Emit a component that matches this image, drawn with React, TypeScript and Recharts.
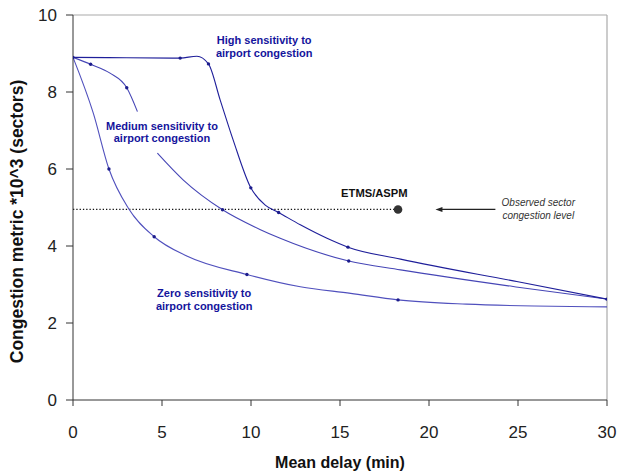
import React from "react";
import { ComposedChart, Line, Scatter, XAxis, YAxis, ReferenceLine, ReferenceDot, Label } from "recharts";

// values (x = mean delay, y = congestion metric)
const xTicks = [0, 5, 10, 15, 20, 25, 30];
const yTicks = [0, 2, 4, 6, 8, 10];

const highCurve = [
  { x: 0, y: 8.9 }, { x: 3, y: 8.89 }, { x: 6.02, y: 8.88 }, { x: 6.96, y: 8.93 }, { x: 7.61, y: 8.73 },
  { x: 8.27, y: 7.79 }, { x: 9.0, y: 6.75 }, { x: 9.99, y: 5.51 }, { x: 10.8, y: 5.06 }, { x: 11.55, y: 4.87 },
  { x: 12.77, y: 4.55 }, { x: 14.27, y: 4.2 }, { x: 15.45, y: 3.97 }, { x: 18.4, y: 3.66 }, { x: 25, y: 3.07 },
  { x: 30, y: 2.62 },
];
const highMarkers = [
  { x: 0, y: 8.9 }, { x: 6.02, y: 8.88 }, { x: 7.61, y: 8.73 }, { x: 9.99, y: 5.51 },
  { x: 11.55, y: 4.87 }, { x: 15.45, y: 3.97 }, { x: 30, y: 2.62 },
];

const mediumCurveTop = [
  { x: 0, y: 8.9 }, { x: 0.99, y: 8.72 }, { x: 2.08, y: 8.49 }, { x: 3.02, y: 8.11 }, { x: 3.62, y: 7.49 },
];
const mediumCurveBottom = [
  { x: 4.74, y: 6.41 }, { x: 6.2, y: 5.71 }, { x: 8.4, y: 4.94 }, { x: 10.5, y: 4.43 }, { x: 11.64, y: 4.2 },
  { x: 15.49, y: 3.61 }, { x: 18.4, y: 3.38 }, { x: 25, y: 2.93 }, { x: 30, y: 2.62 },
];
const mediumMarkers = [
  { x: 0.99, y: 8.72 }, { x: 3.02, y: 8.11 }, { x: 8.4, y: 4.94 }, { x: 15.49, y: 3.61 },
];

const zeroCurve = [
  { x: 0, y: 8.9 }, { x: 1.14, y: 7.45 }, { x: 2.02, y: 6.0 }, { x: 3.11, y: 4.98 }, { x: 4.56, y: 4.24 },
  { x: 6.39, y: 3.74 }, { x: 9.77, y: 3.26 }, { x: 12.77, y: 2.94 }, { x: 15.6, y: 2.77 }, { x: 18.26, y: 2.6 },
  { x: 22.1, y: 2.49 }, { x: 25.9, y: 2.44 }, { x: 30, y: 2.42 },
];
const zeroMarkers = [
  { x: 2.02, y: 6.0 }, { x: 4.56, y: 4.24 }, { x: 9.77, y: 3.26 }, { x: 18.26, y: 2.6 },
];

const observed = [{ x: 18.26, y: 4.95 }];
const observedLevel = [{ x: 0, y: 4.95 }, { x: 18.26, y: 4.95 }];
const arrowFrom = { x: 23.73, y: 4.95 };
const arrowTo = { x: 20.36, y: 4.95 };

const FONT = "'Liberation Sans', Arial, sans-serif";
const BLUE_TEXT = "#14149c";

const smallDot = (fill: string) => (p: any) => <circle cx={p.cx} cy={p.cy} r={1.7} fill={fill} />;

const twoLines = (l1: string, l2: string, opts: { size: number; bold?: boolean; italic?: boolean; fill: string; gap: number }) =>
  (p: any) => (
    <text
      x={p.cx}
      y={p.cy}
      textAnchor="middle"
      fontFamily={FONT}
      fontSize={opts.size}
      fontWeight={opts.bold ? "bold" : "normal"}
      fontStyle={opts.italic ? "italic" : "normal"}
      fill={opts.fill}
    >
      <tspan x={p.cx} y={p.cy - opts.gap / 2} dy="0.35em">{l1}</tspan>
      <tspan x={p.cx} y={p.cy + opts.gap / 2} dy="0.35em">{l2}</tspan>
    </text>
  );

const arrowShape = (p: any) => {
  const { x1, y1, x2, y2 } = p;
  return (
    <g>
      <line x1={x1} y1={y1} x2={x2 + 5} y2={y2} stroke="#222" strokeWidth={1.2} />
      <polygon points={`${x2},${y2} ${x2 + 7},${y2 - 2.5} ${x2 + 7},${y2 + 2.5}`} fill="#222" />
    </g>
  );
};

export default function App() {
  return (
    <div style={{ position: "absolute", left: 0, top: 0, background: "#fff" }}>
      <ComposedChart width={618} height={474} margin={{ top: 15, right: 11, left: 0, bottom: 0 }}>
        <XAxis
          dataKey="x"
          type="number"
          domain={[0, 30]}
          ticks={xTicks}
          height={74}
          tickSize={6}
          tickMargin={20}
          axisLine={{ stroke: "#333" }}
          tickLine={{ stroke: "#333" }}
          tick={{ fill: "#222", fontSize: 17, fontFamily: FONT }}
          allowDataOverflow
        >
          <Label
            content={() => (
              <text x={340} y={468} textAnchor="middle" fontFamily={FONT} fontSize={16} fontWeight="bold" fill="#111">
                Mean delay (min)
              </text>
            )}
          />
        </XAxis>
        <YAxis
          type="number"
          domain={[0, 10]}
          ticks={yTicks}
          width={73}
          tickSize={7}
          tickMargin={9}
          axisLine={{ stroke: "#333" }}
          tickLine={{ stroke: "#333" }}
          tick={{ fill: "#222", fontSize: 17, fontFamily: FONT }}
          allowDataOverflow
        >
          <Label
            content={() => (
              <text
                x={23}
                y={221.5}
                transform="rotate(-90 23 221.5)"
                textAnchor="middle"
                fontFamily={FONT}
                fontSize={17.5}
                fontWeight="bold"
                fill="#111"
              >
                Congestion metric *10^3 (sectors)
              </text>
            )}
          />
        </YAxis>

        <ReferenceLine y={10} stroke="#aaa" strokeWidth={1.2} />
        <ReferenceLine x={30} stroke="#aaa" strokeWidth={1.2} />

        <Line data={observedLevel} dataKey="y" type="linear" stroke="#111" strokeWidth={1.3} strokeDasharray="1.3 2" dot={false} isAnimationActive={false} />

        <Line data={zeroCurve} dataKey="y" type="monotone" stroke="#5050bd" strokeWidth={1.1} dot={false} isAnimationActive={false} />
        <Line data={mediumCurveTop} dataKey="y" type="monotone" stroke="#4646b6" strokeWidth={1.1} dot={false} isAnimationActive={false} />
        <Line data={mediumCurveBottom} dataKey="y" type="monotone" stroke="#4646b6" strokeWidth={1.1} dot={false} isAnimationActive={false} />
        <Line data={highCurve} dataKey="y" type="monotone" stroke="#1f1f9a" strokeWidth={1.1} dot={false} isAnimationActive={false} />

        <Scatter data={zeroMarkers} dataKey="y" shape={smallDot("#1c1c8c")} isAnimationActive={false} />
        <Scatter data={mediumMarkers} dataKey="y" shape={smallDot("#1c1c8c")} isAnimationActive={false} />
        <Scatter data={highMarkers} dataKey="y" shape={smallDot("#1c1c8c")} isAnimationActive={false} />
        <Scatter
          data={observed}
          dataKey="y"
          shape={(p: any) => <circle cx={p.cx} cy={p.cy} r={4.3} fill="#333" />}
          isAnimationActive={false}
        />

        <ReferenceLine segment={[arrowFrom, arrowTo]} shape={arrowShape} ifOverflow="visible" />

        <ReferenceDot x={10.74} y={9.18} r={0} ifOverflow="visible"
          shape={twoLines("High sensitivity to", "airport congestion", { size: 11, bold: true, fill: BLUE_TEXT, gap: 13 })} />
        <ReferenceDot x={5.0} y={6.96} r={0} ifOverflow="visible"
          shape={twoLines("Medium sensitivity to", "airport congestion", { size: 11, bold: true, fill: BLUE_TEXT, gap: 12.5 })} />
        <ReferenceDot x={7.37} y={2.6} r={0} ifOverflow="visible"
          shape={twoLines("Zero sensitivity to", "airport congestion", { size: 11, bold: true, fill: BLUE_TEXT, gap: 13 })} />
        <ReferenceDot x={16.93} y={5.38} r={0} ifOverflow="visible"
          shape={(p: any) => (
            <text x={p.cx} y={p.cy} dy="0.35em" textAnchor="middle" fontFamily={FONT} fontSize={11.2} fontWeight="bold" fill="#111">
              ETMS/ASPM
            </text>
          )} />
        <ReferenceDot x={26.14} y={4.97} r={0} ifOverflow="visible"
          shape={twoLines("Observed sector", "congestion level", { size: 10, italic: true, fill: "#333", gap: 12.8 })} />
      </ComposedChart>
    </div>
  );
}
